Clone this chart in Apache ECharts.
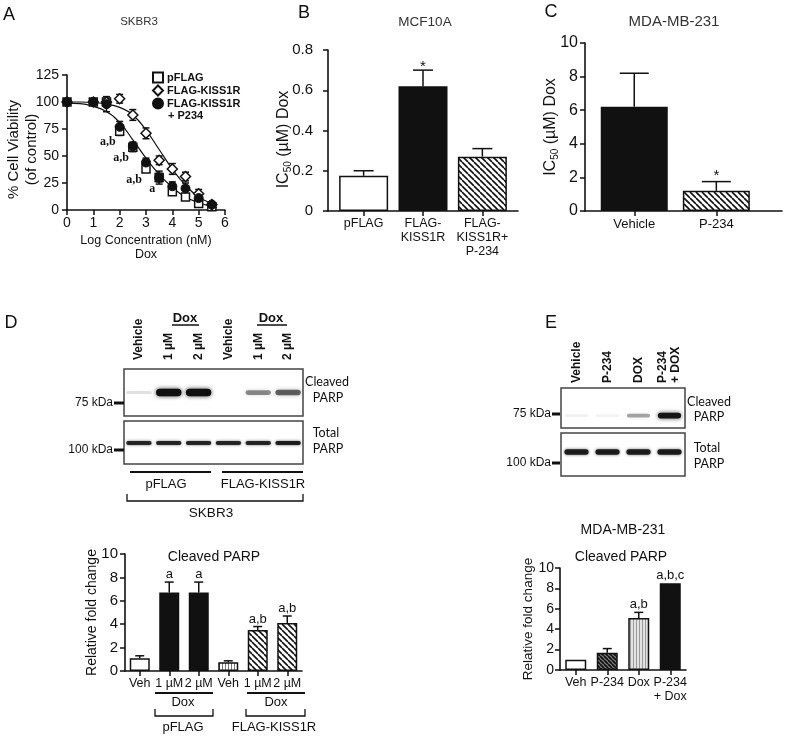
<!DOCTYPE html>
<html><head><meta charset="utf-8">
<script src="https://cdn.jsdelivr.net/npm/echarts@6/dist/echarts.min.js"></script>
<style>html,body{margin:0;padding:0;background:#fff}#c{width:787px;height:736px}</style>
</head><body><div id="c"></div>
<script>
// ---------------- DATA ----------------
// Panel A: SKBR3 viability vs log Dox concentration
const logConc     = [0, 1, 1.5, 2, 2.5, 3, 3.5, 4, 4.5, 5, 5.5];
const viabPFLAG   = [100, 100, 100, 73, 58, 38, 30, 17, 12, 6, 3];
const semPFLAG    = [2, 2, 3, 4, 4, 3, 4, 3, 3, 2, 2];
const viabKISS1R  = [100, 100, 100, 103, 88, 71, 46, 38, 31, 15, 5];
const semKISS1R   = [2, 2, 3, 4, 5, 5, 4, 5, 4, 4, 2];
const viabP234    = [100, 100, 98, 77, 59, 44, 30, 22, 20, 11, 5];
const semP234     = [2, 2, 7, 5, 4, 4, 6, 4, 5, 4, 2];
const annotA      = ['', '', '', 'a,b', 'a,b', 'a,b', 'a', '', '', '', ''];
const fitConc     = [0, 0.5, 1, 1.5, 2, 2.5, 3, 3.5, 4, 4.5, 5, 5.5, 5.7];
const fitLeft     = [99, 98.5, 96, 91, 81, 65, 48, 33, 21, 12, 7, 3, 2];
const fitRight    = [100, 100, 99.5, 98, 95, 88, 74, 56, 38, 23, 12, 6, 4];
// Panel B: MCF10A IC50
const catsB  = ['pFLAG', 'FLAG-\nKISS1R', 'FLAG-\nKISS1R+\nP-234'];
const ic50B  = [0.175, 0.62, 0.27];
const semB   = [0.025, 0.08, 0.04];
const sigB   = ['', '*', ''];
// Panel C: MDA-MB-231 IC50
const catsC  = ['Vehicle', 'P-234'];
const ic50C  = [6.2, 1.2];
const semC   = [2.0, 0.55];
const sigC   = ['', '*'];
// Panel D: blot band intensities (relative) and quantification
const lanesD    = ['Vehicle', '1 µM', '2 µM', 'Vehicle', '1 µM', '2 µM'];
const cleavedD  = [0.12, 1, 1, 0, 0.45, 0.6];
const totalD    = [0.85, 0.85, 0.85, 0.85, 0.85, 0.9];
const catsD  = ['Veh', '1 µM', '2 µM', 'Veh', '1 µM', '2 µM'];
const foldD  = [1.1, 6.7, 6.7, 0.75, 3.5, 4.1];
const semD   = [0.2, 0.9, 0.9, 0.12, 0.3, 0.6];
const sigD   = ['', 'a', 'a', '', 'a,b', 'a,b'];
// Panel E
const lanesE    = ['Vehicle', 'P-234', 'DOX', 'P-234\n+ DOX'];
const cleavedE  = [0.06, 0.05, 0.35, 0.95];
const totalE    = [0.9, 0.9, 0.9, 0.9];
const catsE  = ['Veh', 'P-234', 'Dox', 'P-234\n+ Dox'];
const foldE  = [1.0, 1.7, 5.1, 8.5];
const semE   = [0, 0.4, 0.55, 0];
const sigE   = ['', '', 'a,b', 'a,b,c'];

// ---------------- STYLE HELPERS ----------------
const SANS = '"Liberation Sans", Arial, sans-serif';
const SERIF = '"Liberation Serif", "Times New Roman", serif';
const CAL = 'Lato, "Open Sans", sans-serif';
const INK = '#111';

function diagPattern(bg, fg, size, lw) {
  const c = document.createElement('canvas'); c.width = size; c.height = size;
  const g = c.getContext('2d');
  g.fillStyle = bg; g.fillRect(0, 0, size, size);
  g.strokeStyle = fg; g.lineWidth = lw; g.beginPath();
  for (let o = -size; o <= size; o += size) { g.moveTo(o, 0); g.lineTo(o + size, size); }
  g.stroke();
  return { image: c, repeat: 'repeat' };
}
function stripePattern(bg, fg, size, lw) {
  const c = document.createElement('canvas'); c.width = size; c.height = 4;
  const g = c.getContext('2d');
  g.fillStyle = bg; g.fillRect(0, 0, size, 4);
  g.fillStyle = fg; g.fillRect(0, 0, lw, 4);
  return { image: c, repeat: 'repeat' };
}
const hatch = diagPattern('#fff', '#111', 6, 1.6);
const hatchDark = diagPattern('#777', '#111', 4, 1.6);
const vStripe = stripePattern('#fff', '#777', 3, 1);
const vStripeGray = stripePattern('#e2e2e2', '#9a9a9a', 3, 1);

const Lseg = (x1, y1, x2, y2, w) => ({ type: 'line', shape: { x1, y1, x2, y2 }, style: { stroke: INK, lineWidth: w || 1.5 } });

function errorSeries(xi, xs, vals, sems, opts) {
  const o = Object.assign({ cap: 8, both: false, sig: null, sigFont: '13px ' + SANS, sigDx: 0, sigDy: -2,
    sigAlign: 'center', sigVAlign: 'bottom', sigAnchor: 'top', z: 3 }, opts);
  return {
    type: 'custom', xAxisIndex: xi, yAxisIndex: xi, z: o.z, silent: true, clip: false,
    data: xs.map((x, i) => [x, vals[i], sems[i]]),
    renderItem(params, api) {
      const i = params.dataIndex;
      const x = api.value(0), v = api.value(1), e = api.value(2);
      const pt = api.coord([x, v]);
      const up = api.coord([x, v + e]);
      const dn = api.coord([x, o.both ? v - e : v]);
      const ch = [];
      if (e > 0) {
        ch.push(Lseg(up[0], up[1], dn[0], dn[1]));
        ch.push(Lseg(up[0] - o.cap / 2, up[1], up[0] + o.cap / 2, up[1]));
        if (o.both) ch.push(Lseg(dn[0] - o.cap / 2, dn[1], dn[0] + o.cap / 2, dn[1]));
      }
      const s = o.sig && o.sig[i];
      if (s) {
        const ref = o.sigAnchor === 'top' ? up : pt;
        ch.push({ type: 'text', x: ref[0] + o.sigDx, y: ref[1] + o.sigDy,
          style: { text: s, font: o.sigFont, fill: INK, align: o.sigAlign, verticalAlign: o.sigVAlign } });
      }
      return { type: 'group', children: ch };
    }
  };
}
function bandSeries(ai, intens, yPos, opt) {
  return {
    type: 'custom', xAxisIndex: ai, yAxisIndex: ai, silent: true, z: 2,
    data: intens.map((v, i) => [i, v]),
    renderItem(params, api) {
      const a = api.value(1);
      if (a <= 0.001) return null;
      const c = api.coord([api.value(0), yPos]);
      const w = api.size([1, 0])[0] * opt.wFrac;
      const h = opt.h0 + opt.h1 * a;
      return { type: 'rect', shape: { x: c[0] - w / 2, y: c[1] - h / 2, width: w, height: h, r: h / 2 },
        style: { fill: 'rgba(15,15,15,' + Math.min(1, a) + ')', shadowBlur: opt.blur, shadowColor: 'rgba(15,15,15,' + (a * 0.8) + ')' } };
    }
  };
}
function barData(xs, vals, fills) {
  return vals.map((v, i) => ({ value: [xs[i], v], itemStyle: { color: fills[i], borderColor: INK, borderWidth: 1.5 } }));
}
function yVal(grid, min, max, interval, fs, margin, name, nameGap, nameFs, shift, extra) {
  const ax = {
    gridIndex: grid, type: 'value', min, max, interval,
    splitLine: { show: false },
    axisLine: { show: true, onZero: false, lineStyle: { color: INK, width: 1.6 } },
    axisTick: { show: true, length: 5, lineStyle: { color: INK, width: 1.5 } },
    axisLabel: { color: INK, fontFamily: SANS, fontSize: fs, margin },
    name, nameLocation: 'middle', nameGap, nameRotate: 90, nameMoveOverlap: false,
    nameTextStyle: { color: INK, fontFamily: SANS, fontSize: nameFs, lineHeight: nameFs + 3, padding: [0, shift * 2, 0, 0] }
  };
  if (extra) {
    if (extra.axisLabel) Object.assign(ax.axisLabel, extra.axisLabel);
    if (extra.nameTextStyle) Object.assign(ax.nameTextStyle, extra.nameTextStyle);
  }
  return ax;
}
function xCat(grid, cats, fs, margin) {
  return {
    gridIndex: grid, type: 'category', data: cats.map((c, i) => String(i)),
    splitLine: { show: false },
    axisLine: { show: true, onZero: false, lineStyle: { color: INK, width: 1.6 } },
    axisTick: { show: true, length: 5, alignWithLabel: true, lineStyle: { color: INK, width: 1.5 } },
    axisLabel: { color: INK, fontFamily: SANS, fontSize: fs, margin, lineHeight: 14, interval: 0,
      formatter: (v) => cats[+v] }
  };
}
function xValCat(grid, min, max, cats, fs, margin) {
  const cv = cats.map((c, i) => i);
  return {
    gridIndex: grid, type: 'value', min, max,
    splitLine: { show: false },
    axisLine: { show: true, onZero: false, lineStyle: { color: INK, width: 1.6 } },
    axisTick: { show: true, length: 5, customValues: cv, lineStyle: { color: INK, width: 1.5 } },
    axisLabel: { customValues: cv, color: INK, fontFamily: SANS, fontSize: fs, margin, lineHeight: 14,
      formatter: (v) => cats[Math.round(v)] }
  };
}
function blotX(grid, lanes, showLabels, margin) {
  return {
    gridIndex: grid, type: 'category', data: lanes.map((c, i) => String(i)), position: 'top',
    axisLine: { show: false }, axisTick: { show: false }, splitLine: { show: false },
    axisLabel: { show: showLabels, rotate: 90, margin, interval: 0, color: INK,
      fontFamily: SANS, fontWeight: 'bold', fontSize: 12, lineHeight: 13, formatter: (v) => lanes[+v] }
  };
}
const blotY = (grid) => ({ gridIndex: grid, type: 'value', min: 0, max: 1, show: false });
const blotGrid = (left, top, width, height) => ({ left, top, width, height, show: true,
  borderColor: '#444', borderWidth: 1.5, backgroundColor: '#fff', outerBoundsMode: 'none' });

// ---------------- CHART ----------------
const chart = echarts.init(document.getElementById('c'));
const idx = (arr) => arr.map((_, i) => i);

const T = (x, y, text, font, align, extra) => ({ type: 'text', x, y, silent: true,
  style: Object.assign({ text, font, fill: INK, align: align || 'center', verticalAlign: 'middle' }, extra || {}) });
const GL = (x1, y1, x2, y2, w) => ({ type: 'line', silent: true, shape: { x1, y1, x2, y2 }, style: { stroke: INK, lineWidth: w || 1.5 } });
const PL = (pts, w) => ({ type: 'polyline', silent: true, shape: { points: pts }, style: { stroke: INK, lineWidth: w || 1.3, fill: null } });
const RC = (x, y, w, h) => ({ type: 'rect', silent: true, shape: { x, y, width: w, height: h }, style: { fill: INK } });
const subRich = { s: { fontSize: 10, verticalAlign: 'bottom', padding: [8, 0, 0, 0], fontFamily: SANS, color: INK } };

const option = {
  animation: false,
  backgroundColor: '#fff',
  grid: [
    { left: 67, top: 75, width: 158, height: 135, outerBoundsMode: 'none' },   // 0 A
    { left: 328, top: 50, width: 190, height: 161, outerBoundsMode: 'none' },  // 1 B
    { left: 585, top: 43, width: 197, height: 168, outerBoundsMode: 'none' },  // 2 C
    { left: 125, top: 554, width: 177, height: 117, outerBoundsMode: 'none' }, // 3 D bars
    { left: 560, top: 568, width: 126, height: 102, outerBoundsMode: 'none' }, // 4 E bars
    blotGrid(124, 369, 179, 47),  // 5 D cleaved
    blotGrid(124, 421, 179, 43),  // 6 D total
    blotGrid(561, 388, 124, 40),  // 7 E cleaved
    blotGrid(561, 433, 124, 43)   // 8 E total
  ],
  xAxis: [
    { gridIndex: 0, type: 'value', min: 0, max: 6, interval: 1,
      splitLine: { show: false },
      axisLine: { show: true, onZero: false, lineStyle: { color: INK, width: 1.6 } },
      axisTick: { show: true, length: 5, lineStyle: { color: INK, width: 1.5 } },
      axisLabel: { color: INK, fontFamily: SANS, fontSize: 14, margin: 6 },
      name: 'Log Concentration (nM)\nDox', nameLocation: 'middle', nameGap: 24, nameMoveOverlap: false,
      nameTextStyle: { color: INK, fontFamily: SANS, fontSize: 12.5, lineHeight: 14 } },
    xValCat(1, -0.6, 2.6, catsB, 12.5, 6),
    xValCat(2, -0.6, 1.8, catsC, 13, 6),
    xCat(3, catsD, 12.5, 6),
    xCat(4, catsE, 12.5, 6),
    blotX(5, lanesD, true, 9),
    blotX(6, lanesD, false, 0),
    blotX(7, lanesE, true, 5),
    blotX(8, lanesE, false, 0)
  ],
  yAxis: [
    yVal(0, 0, 125, 25, 14, 8, '% Cell Viability\n(of control)', 26, 15, 7),
    yVal(1, 0, 0.8, 0.2, 15, 15, 'IC{s|50} (µM) Dox', 35, 16, 9, {
      axisLabel: { formatter: (v) => v === 0 ? '0' : v.toFixed(1) },
      nameTextStyle: { rich: subRich } }),
    yVal(2, 0, 10, 2, 16, 7, 'IC{s|50} (µM) Dox', 25, 16, 0, { nameTextStyle: { rich: subRich } }),
    yVal(3, 0, 10, 2, 15, 7, 'Relative fold change', 24, 14, 0),
    yVal(4, 0, 10, 2, 14, 6, 'Relative fold change', 23, 13.5, 0),
    blotY(5), blotY(6), blotY(7), blotY(8)
  ],
  legend: {
    left: 152, top: 71, orient: 'vertical', itemWidth: 10, itemHeight: 10, itemGap: 0, padding: 0,
    selectedMode: false,
    data: ['pFLAG', 'FLAG-KISS1R', 'FLAG-KISS1R + P234'],
    formatter: (n) => n === 'FLAG-KISS1R + P234' ? 'FLAG-KISS1R' : n,
    textStyle: { fontFamily: SANS, fontWeight: 'bold', fontSize: 11, color: INK, lineHeight: 13, padding: [0, 0, 0, -1] }
  },
  series: [
    // Panel A curves
    { type: 'line', xAxisIndex: 0, yAxisIndex: 0, smooth: true, symbol: 'none', silent: true, z: 1,
      lineStyle: { color: INK, width: 1.2 }, data: fitConc.map((x, i) => [x, fitLeft[i]]) },
    { type: 'line', xAxisIndex: 0, yAxisIndex: 0, smooth: true, symbol: 'none', silent: true, z: 1,
      lineStyle: { color: INK, width: 1.2 }, data: fitConc.map((x, i) => [x, fitRight[i]]) },
    errorSeries(0, logConc, viabPFLAG, semPFLAG, { both: true, cap: 7, z: 2, sig: annotA, sigAnchor: 'pt',
      sigDx: -4, sigDy: 5, sigAlign: 'right', sigVAlign: 'top', sigFont: 'bold 12px ' + SERIF }),
    errorSeries(0, logConc, viabKISS1R, semKISS1R, { both: true, cap: 7, z: 2 }),
    errorSeries(0, logConc, viabP234, semP234, { both: true, cap: 7, z: 2 }),
    { name: 'pFLAG', type: 'scatter', xAxisIndex: 0, yAxisIndex: 0, symbol: 'rect', symbolSize: 8, z: 4,
      itemStyle: { color: '#fff', borderColor: INK, borderWidth: 1.5, opacity: 1 },
      data: logConc.map((x, i) => [x, viabPFLAG[i]]) },
    { name: 'FLAG-KISS1R', type: 'scatter', xAxisIndex: 0, yAxisIndex: 0, symbol: 'diamond', symbolSize: 10, z: 4,
      itemStyle: { color: '#fff', borderColor: INK, borderWidth: 1.5, opacity: 1 },
      data: logConc.map((x, i) => [x, viabKISS1R[i]]) },
    { name: 'FLAG-KISS1R + P234', type: 'scatter', xAxisIndex: 0, yAxisIndex: 0, symbol: 'circle', symbolSize: 9, z: 4,
      itemStyle: { color: INK, borderColor: INK, borderWidth: 1, opacity: 1 },
      data: logConc.map((x, i) => [x, viabP234[i]]) },
    // Panel B
    { type: 'bar', xAxisIndex: 1, yAxisIndex: 1, barWidth: 49, silent: true,
      data: barData(idx(catsB), ic50B, ['#fff', INK, hatch]) },
    errorSeries(1, idx(catsB), ic50B, semB, { cap: 20, sig: sigB, sigFont: '15px ' + SANS, sigDy: 4 }),
    // Panel C
    { type: 'bar', xAxisIndex: 2, yAxisIndex: 2, barWidth: 67, silent: true,
      data: barData(idx(catsC), ic50C, [INK, hatch]) },
    errorSeries(2, idx(catsC), ic50C, semC, { cap: 29, sig: sigC, sigFont: '15px ' + SANS, sigDy: 2 }),
    // Panel D bars
    { type: 'bar', xAxisIndex: 3, yAxisIndex: 3, barWidth: 20, silent: true,
      data: foldD.map((v, i) => ({ value: v, itemStyle: { color: ['#fff', INK, INK, vStripe, hatch, hatch][i], borderColor: INK, borderWidth: 1.5 } })) },
    errorSeries(3, idx(catsD), foldD, semD, { cap: 9, sig: sigD, sigFont: '13px ' + SANS, sigDy: -1 }),
    // Panel E bars
    { type: 'bar', xAxisIndex: 4, yAxisIndex: 4, barWidth: 21, silent: true,
      data: foldE.map((v, i) => ({ value: v, itemStyle: { color: ['#fff', hatchDark, vStripeGray, INK][i], borderColor: INK, borderWidth: 1.5 } })) },
    errorSeries(4, idx(catsE), foldE, semE, { cap: 9, sig: sigE, sigFont: '13px ' + SANS, sigDy: -1 }),
    // Blots
    bandSeries(5, cleavedD, 0.5, { wFrac: 0.85, h0: 2.5, h1: 5, blur: 4 }),
    bandSeries(6, totalD, 0.49, { wFrac: 0.85, h0: 3.5, h1: 0.5, blur: 3 }),
    bandSeries(7, cleavedE, 0.31, { wFrac: 0.75, h0: 2.5, h1: 3.5, blur: 4 }),
    bandSeries(8, totalE, 0.56, { wFrac: 0.78, h0: 5, h1: 0.5, blur: 3 })
  ],
  graphic: { elements: [
    T(9, 15, 'A', '18px ' + SANS), T(304, 13, 'B', '18px ' + SANS), T(551, 12, 'C', '18px ' + SANS),
    T(11, 323, 'D', '18px ' + SANS), T(551, 323, 'E', '18px ' + SANS),
    T(139, 22, 'SKBR3', '11.5px ' + SANS, 'center', { fill: '#333' }),
    T(425, 22, 'MCF10A', '13.5px ' + SANS, 'center', { fill: '#333' }),
    T(674, 22, 'MDA-MB-231', '15px ' + SANS, 'center', { fill: '#333' }),
    T(168, 116, '+ P234', 'bold 11px ' + SANS, 'left'),
    // D blot annotations
    T(185, 318, 'Dox', 'bold 13px ' + SANS), GL(172, 325, 199, 325), T(271, 318, 'Dox', 'bold 13px ' + SANS), GL(257, 325, 287, 325),
    T(113, 403, '75 kDa', '12px ' + SANS, 'right'), RC(114, 401.5, 10, 3),
    T(113, 450, '100 kDa', '12px ' + SANS, 'right'), RC(114, 448.5, 10, 3),
    T(327, 382, 'Cleaved', '12.5px ' + CAL), T(328, 398, 'PARP', '12.5px ' + CAL),
    T(326, 433, 'Total', '12.5px ' + CAL), T(328, 449, 'PARP', '12.5px ' + CAL),
    GL(130, 472, 211, 472, 2), GL(222, 472, 303, 472, 2),
    T(166, 484, 'pFLAG', '13px ' + SANS), T(263, 484, 'FLAG-KISS1R', '13px ' + SANS),
    PL([[127, 494], [127, 501], [303, 501], [303, 494]]),
    T(211, 513, 'SKBR3', '13.5px ' + SANS),
    // D bars annotations
    T(214, 557, 'Cleaved PARP', '14px ' + SANS),
    GL(155, 693, 213, 693, 1.8), GL(247, 693, 305, 693, 1.8),
    T(183, 702, 'Dox', '13px ' + SANS), T(276, 702, 'Dox', '13px ' + SANS),
    PL([[155, 709], [155, 716], [213, 716], [213, 709]]), PL([[246, 709], [246, 716], [305, 716], [305, 709]]),
    T(183, 727, 'pFLAG', '13px ' + SANS), T(274, 727, 'FLAG-KISS1R', '13px ' + SANS),
    // E blot annotations
    T(551, 414, '75 kDa', '12px ' + SANS, 'right'), RC(552, 412.5, 8, 3),
    T(551, 463, '100 kDa', '12px ' + SANS, 'right'), RC(552, 461.5, 8, 3),
    T(709, 402, 'Cleaved', '12.5px ' + CAL), T(709, 417, 'PARP', '12.5px ' + CAL),
    T(707, 448, 'Total', '12.5px ' + CAL), T(709, 464, 'PARP', '12.5px ' + CAL),
    T(623, 530, 'MDA-MB-231', '14px ' + SANS),
    T(621, 557, 'Cleaved PARP', '14px ' + SANS)
  ] }
};
chart.setOption(option);
</script>
</body></html>
